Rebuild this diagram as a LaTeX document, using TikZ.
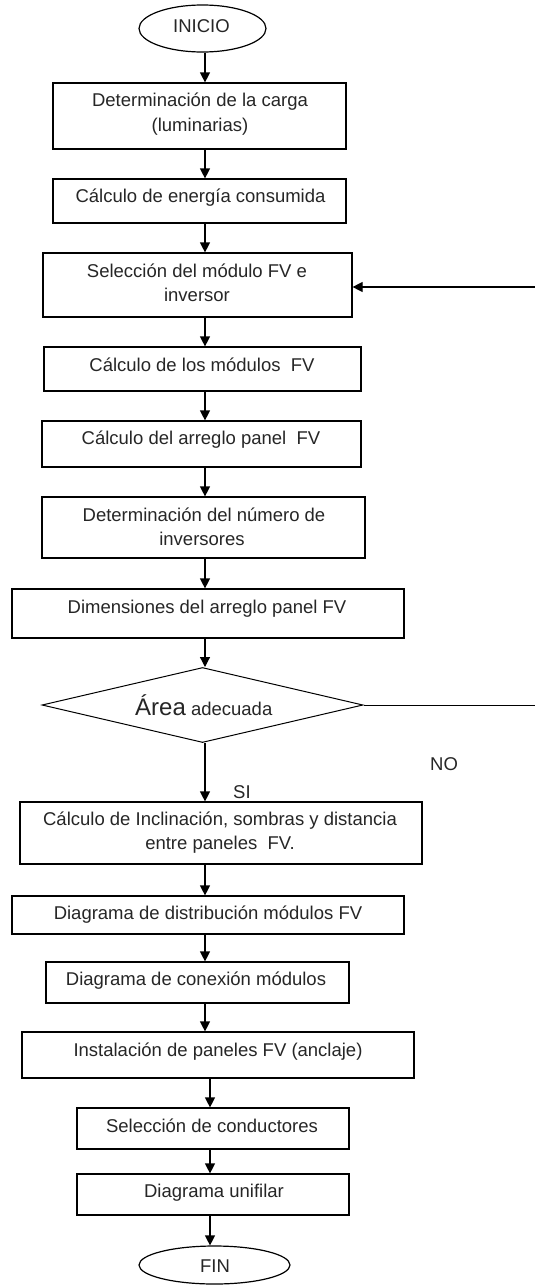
\documentclass[tikz,border=0pt]{standalone}
\usepackage{fontspec}
\setmainfont{Liberation Sans}
\usetikzlibrary{arrows.meta,shapes.geometric,calc}
\begin{document}
\begin{tikzpicture}[x=1pt,y=-1pt,
  box/.style={draw=black, line width=1.2pt, rectangle, inner sep=0pt},
  term/.style={draw=black, line width=1.2pt, ellipse, inner sep=0pt},
  decis/.style={draw=black, line width=1pt, diamond, inner sep=0pt},
  txt/.style={anchor=base, inner sep=0pt, text=black!85, font=\fontsize{18.5}{22}\selectfont},
  arr/.style={line width=1.2pt, -{Triangle[width=10pt,length=10pt]}},
  plain/.style={line width=1pt},
]
\fill[white] (0,0) rectangle (535,1285);
\useasboundingbox (0,0) rectangle (535,1285);
\coordinate (ax) at (205,0);
\coordinate (bx) at (210,0);

% shapes
\node[term, minimum width=127pt, minimum height=47pt] (ini) at (202.5,28.5) {};
\node[box, minimum width=293pt, minimum height=66pt] (b1) at (199.5,116) {};
\node[box, minimum width=293pt, minimum height=44pt] (b2) at (199.5,201) {};
\node[box, minimum width=309pt, minimum height=64pt] (b3) at (197.5,285) {};
\node[box, minimum width=317pt, minimum height=44pt] (b4) at (202.5,369) {};
\node[box, minimum width=319pt, minimum height=46pt] (b5) at (201.5,444) {};
\node[box, minimum width=323pt, minimum height=61pt] (b6) at (203.5,527.5) {};
\node[box, minimum width=392pt, minimum height=49pt] (b7) at (208,613.5) {};
\node[decis, minimum width=321pt, minimum height=75pt] (dia) at (202.5,705) {};
\node[box, minimum width=402pt, minimum height=62pt] (b8) at (221,833) {};
\node[box, minimum width=392pt, minimum height=38pt] (b9) at (208,915) {};
\node[box, minimum width=303pt, minimum height=41pt] (b10) at (197.5,982.5) {};
\node[box, minimum width=392pt, minimum height=46pt] (b11) at (218,1055) {};
\node[box, minimum width=272pt, minimum height=41pt] (b12) at (213,1128.5) {};
\node[box, minimum width=272pt, minimum height=41pt] (b13) at (213,1194.5) {};
\node[term, minimum width=151pt, minimum height=38pt] (fin) at (214.5,1265) {};

% texts
\node[txt] (tini) at (201.5,32) {INICIO};
\node[txt] (t1a) at (200,106.5) {Determinación de la carga};
\node[txt] (t1b) at (200,131) {(luminarias)};
\node[txt] (t2) at (200.5,202) {Cálculo de energía consumida};
\node[txt] (t3a) at (197,277) {Selección del módulo FV e};
\node[txt] (t3b) at (197,301) {inversor};
\node[txt] (t4) at (202,371) {Cálculo de los módulos\ \ FV};
\node[txt] (t5) at (201,444) {Cálculo del arreglo panel\ \ FV};
\node[txt] (t6a) at (204,521) {Determinación del número de};
\node[txt] (t6b) at (202,545) {inversores};
\node[txt] (t7) at (207,613) {Dimensiones del arreglo panel FV};
\node[txt, anchor=base west] (td) at (135,715) {{\fontsize{24}{28}\selectfont Área} adecuada};
\node[txt, anchor=base west] (tno) at (430,770) {NO};
\node[txt, anchor=base west] (tsi) at (233,798) {SI};
\node[txt] (t8a) at (220,825) {Cálculo de Inclinación, sombras y distancia};
\node[txt] (t8b) at (220,849) {entre paneles\ \ FV.};
\node[txt] (t9) at (208,919) {Diagrama de distribución módulos FV};
\node[txt] (t10) at (196,985) {Diagrama de conexión módulos};
\node[txt] (t11) at (218,1056) {Instalación de paneles FV (anclaje)};
\node[txt] (t12) at (212,1132) {Selección de conductores};
\node[txt] (t13) at (214,1197) {Diagrama unifilar};
\node[txt] (tfin) at (215,1272) {FIN};

% connectors
\draw[arr] (ini.south -| ax) -- (b1.north -| ax);
\draw[arr] (b1.south -| ax) -- (b2.north -| ax);
\draw[arr] (b2.south -| ax) -- (b3.north -| ax);
\draw[arr] (b3.south -| ax) -- (b4.north -| ax);
\draw[arr] (b4.south -| ax) -- (b5.north -| ax);
\draw[arr] (b5.south -| ax) -- (b6.north -| ax);
\draw[arr] (b6.south -| ax) -- (b7.north -| ax);
\draw[arr] (b7.south -| ax) -- (dia.north -| ax);
\draw[arr] (dia.south -| ax) -- (b8.north -| ax);
\draw[arr] (b8.south -| ax) -- (b9.north -| ax);
\draw[arr] (b9.south -| ax) -- (b10.north -| ax);
\draw[arr] (b10.south -| ax) -- (b11.north -| ax);
\draw[arr] (b11.south -| bx) -- (b12.north -| bx);
\draw[arr] (b12.south -| bx) -- (b13.north -| bx);
\draw[arr] (b13.south -| bx) -- (fin.north -| bx);

\coordinate (dR) at (535,705);
\coordinate (fbR) at (535,287);
\draw[plain] (dia.east) -- (dR);
\draw[arr] (fbR) -- (b3.east |- fbR);
\end{tikzpicture}
\end{document}
